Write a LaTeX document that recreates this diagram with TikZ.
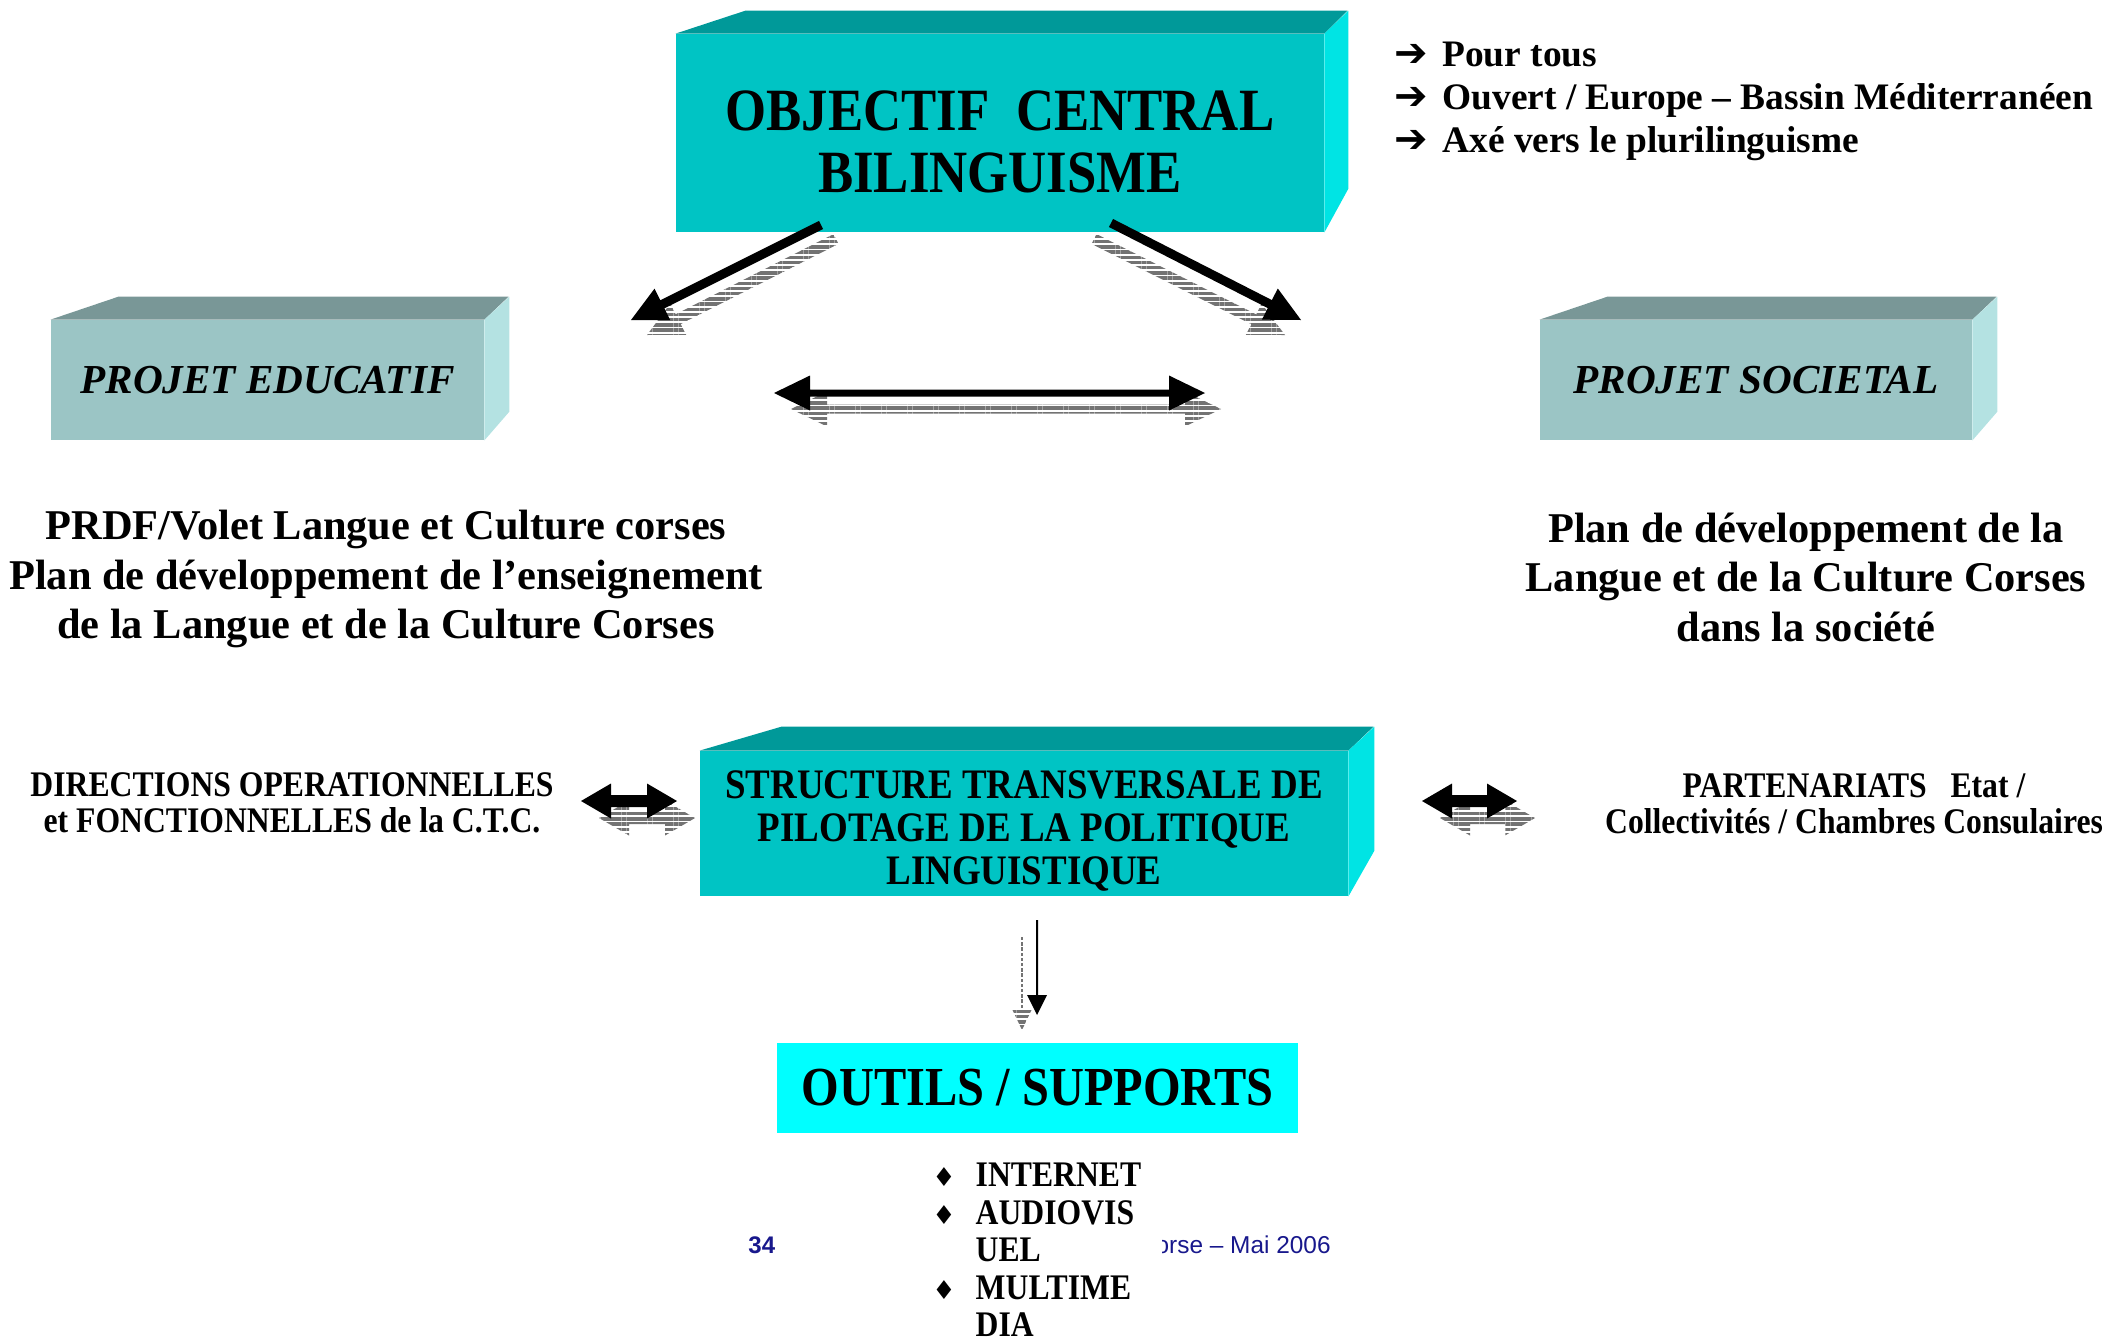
\documentclass[tikz,border=0pt]{standalone}
\usepackage{fontspec}
\setmainfont{Liberation Serif}
\setsansfont{Liberation Sans}
\newfontfamily\narrowserif[FakeStretch=0.88]{Liberation Serif}
\newfontfamily\dingfont{DejaVu Sans}
\usetikzlibrary{calc,patterns.meta}

\definecolor{tealfront}{RGB}{0,196,196}
\definecolor{tealtop}{RGB}{0,153,153}
\definecolor{tealside}{RGB}{0,228,228}
\definecolor{greyfront}{RGB}{155,197,197}
\definecolor{greytop}{RGB}{121,151,151}
\definecolor{greyside}{RGB}{180,226,226}
\definecolor{outilscyan}{RGB}{0,255,255}
\definecolor{hatchgrey}{RGB}{115,115,115}
\definecolor{footblue}{RGB}{24,24,140}

% filled arrow outlines: #1 style, #2 tail, #3 tip, #4 half shaft, #5 half head, #6 head length
\newcommand\onearrow[6]{%
  \coordinate (hd) at ($(#3)!#6!(#2)$);
  \fill[#1] ($(#2)!#4!90:(#3)$) -- ($(hd)!#4!90:(#3)$) -- ($(hd)!#5!90:(#3)$) -- (#3)
    -- ($(hd)!#5!-90:(#3)$) -- ($(hd)!#4!-90:(#3)$) -- ($(#2)!#4!-90:(#3)$) -- cycle;}
\newcommand\twoarrow[6]{%
  \coordinate (ha) at ($(#2)!#6!(#3)$);
  \coordinate (hb) at ($(#3)!#6!(#2)$);
  \fill[#1] ($(ha)!#4!90:(#3)$) -- ($(hb)!#4!90:(#3)$) -- ($(hb)!#5!90:(#3)$) -- (#3)
    -- ($(hb)!#5!-90:(#3)$) -- ($(hb)!#4!-90:(#3)$) -- ($(ha)!#4!-90:(#3)$)
    -- ($(ha)!#5!-90:(#3)$) -- (#2) -- ($(ha)!#5!90:(#3)$) -- cycle;}
\newcommand\tickarrow{\makebox[24pt][l]{\dingfont\fontsize{20}{20}\selectfont ➔}}
\newcommand\diamondmark{{\dingfont\fontsize{13}{13}\selectfont ♦}}

\begin{document}
\begin{tikzpicture}[x=0.5pt,y=-0.5pt,
    tealface/.style={fill=tealfront, inner sep=0pt},
    greyface/.style={fill=greyfront, inner sep=0pt, font=\bfseries\itshape\fontsize{20.6}{22}\selectfont},
    bigtitle/.style={font=\narrowserif\bfseries\fontsize{30}{31}\selectfont, align=center, inner sep=0pt},
    plantext/.style={font=\bfseries\fontsize{21.2}{24.75}\selectfont, align=center, inner sep=0pt},
    sidetext/.style={font=\narrowserif\bfseries\fontsize{18}{18}\selectfont, align=center, inner sep=0pt},
    hatch/.style={pattern={Lines[angle=0,distance=2.6pt,line width=1.7pt]}, pattern color=hatchgrey}
]
\useasboundingbox (0,0) rectangle (2118,1339);

% Central objective
\node[tealface, minimum width=324pt, minimum height=99pt] (objectif) at (1000,133) {};
\fill[tealtop] (objectif.north west) -- ++(70,-23) -- ++(602,0) -- (objectif.north east) -- cycle;
\fill[tealside] (objectif.north east) -- ++(24,-23) -- ++(0,178) -- (objectif.south east) -- cycle;
\node[bigtitle] (objtitle) at (1000,142) {OBJECTIF~~CENTRAL\\BILINGUISME};

\node[font=\bfseries\fontsize{18.7}{21.5}\selectfont, align=left, inner sep=0pt, anchor=west] (targets) at (1394,101.5)
  {\tickarrow Pour tous\\\tickarrow Ouvert / Europe – Bassin Méditerranéen\\\tickarrow Axé vers le plurilinguisme};

% Projects
\node[greyface, minimum width=216.5pt, minimum height=60pt] (educatif) at (267.5,380) {PROJET EDUCATIF};
\fill[greytop] (educatif.north west) -- ++(68,-23) -- ++(390,0) -- (educatif.north east) -- cycle;
\fill[greyside] (educatif.north east) -- ++(25,-23) -- ++(0,115) -- (educatif.south east) -- cycle;

\node[greyface, minimum width=216pt, minimum height=60pt] (societal) at (1756,380) {PROJET SOCIETAL};
\fill[greytop] (societal.north west) -- ++(68,-23) -- ++(389,0) -- (societal.north east) -- cycle;
\fill[greyside] (societal.north east) -- ++(25,-23) -- ++(0,115) -- (societal.south east) -- cycle;

\node[plantext] (volet) at (386,579) {PRDF/Volet Langue et Culture corses\\Plan de développement de l’enseignement\\de la Langue et de la Culture Corses};
\node[plantext] (societe) at (1806,577) {Plan de développement de la\\Langue et de la Culture Corses\\dans la société};

% Arrows from the objective
\coordinate (ltail) at (821,225);
\coordinate (ltip) at (631,320);
\coordinate (lshtail) at (836,239);
\coordinate (lshtip) at (647,335);
\coordinate (rtail) at (1111,223);
\coordinate (rtip) at (1301,320);
\coordinate (rshtail) at (1094,239);
\coordinate (rshtip) at (1285,335);
\coordinate (hleft) at (774,393);
\coordinate (hright) at (1205,393);
\coordinate (hshleft) at (791,409);
\coordinate (hshright) at (1221,409);

\onearrow{hatch}{lshtail}{lshtip}{2.75pt}{8.75pt}{17.5pt}
\onearrow{hatch}{rshtail}{rshtip}{2.75pt}{8.75pt}{17.5pt}
\twoarrow{hatch}{hshleft}{hshright}{2.25pt}{8.75pt}{18pt}
\onearrow{black}{ltail}{ltip}{2.25pt}{8.75pt}{17.5pt}
\onearrow{black}{rtail}{rtip}{2.25pt}{8.75pt}{17.5pt}
\twoarrow{black}{hleft}{hright}{1.75pt}{8.75pt}{18pt}

% Steering structure
\node[tealface, minimum width=324pt, minimum height=72.5pt] (structure) at (1024,823.5) {};
\fill[tealtop] (structure.north west) -- ++(82,-24) -- ++(592,0) -- (structure.north east) -- cycle;
\fill[tealside] (structure.north east) -- ++(26,-24) -- ++(0,124) -- (structure.south east) -- cycle;
\node[font=\narrowserif\bfseries\fontsize{21}{21.5}\selectfont, align=center, inner sep=0pt] (structtitle) at (1024,831)
  {STRUCTURE TRANSVERSALE DE\\PILOTAGE DE LA POLITIQUE\\LINGUISTIQUE};

\node[sidetext] (directions) at (292,803) {DIRECTIONS OPERATIONNELLES\\et FONCTIONNELLES de la C.T.C.};
\node[sidetext] (partenariats) at (1854,804) {PARTENARIATS~~~Etat /\\Collectivités / Chambres Consulaires};

\coordinate (dlshleft) at (599,818);
\coordinate (dlshright) at (695,818);
\coordinate (dlleft) at (581,801);
\coordinate (dlright) at (677,801);
\coordinate (prshleft) at (1440,818);
\coordinate (prshright) at (1535,818);
\coordinate (prleft) at (1422,801);
\coordinate (prright) at (1517,801);
\twoarrow{hatch}{dlshleft}{dlshright}{3pt}{8.75pt}{15pt}
\twoarrow{hatch}{prshleft}{prshright}{3pt}{8.75pt}{15pt}
\twoarrow{black}{dlleft}{dlright}{3pt}{8.75pt}{15pt}
\twoarrow{black}{prleft}{prright}{3pt}{8.75pt}{15pt}

% Tools
\coordinate (dshtail) at (1022,936);
\coordinate (dshtip) at (1022,1030);
\coordinate (dtail) at (1037,920);
\coordinate (dtip) at (1037,1015);
\onearrow{hatch}{dshtail}{dshtip}{0.4pt}{4.75pt}{10pt}
\onearrow{black}{dtail}{dtip}{0.5pt}{5pt}{10pt}

\node[fill=outilscyan, inner sep=0pt, minimum width=260.5pt, minimum height=45pt, font=\narrowserif\bfseries\fontsize{27.5}{30}\selectfont] (outils) at (1037.5,1088) {OUTILS / SUPPORTS};

% Footer
\node[anchor=base west, inner sep=0pt, text=footblue, font=\sffamily\bfseries\fontsize{12}{12}\selectfont] (pagenum) at (748,1253) {34};
\node[anchor=base east, inner sep=0pt, text=footblue, font=\sffamily\fontsize{12.2}{12}\selectfont] (footer) at (1331,1253) {orse – Mai 2006};

\node[anchor=north west, fill=white, inner sep=0pt, font=\narrowserif\bfseries\fontsize{18}{18.75}\selectfont] (supports) at (932,1160) {%
  \begin{tabular}{@{}l@{\hspace{10pt}}p{93pt}@{}}
  \diamondmark & INTERNET\\
  \diamondmark & AUDIOVIS\\
   & UEL\\
  \diamondmark & MULTIME\\
   & DIA
  \end{tabular}};

\end{tikzpicture}
\end{document}
